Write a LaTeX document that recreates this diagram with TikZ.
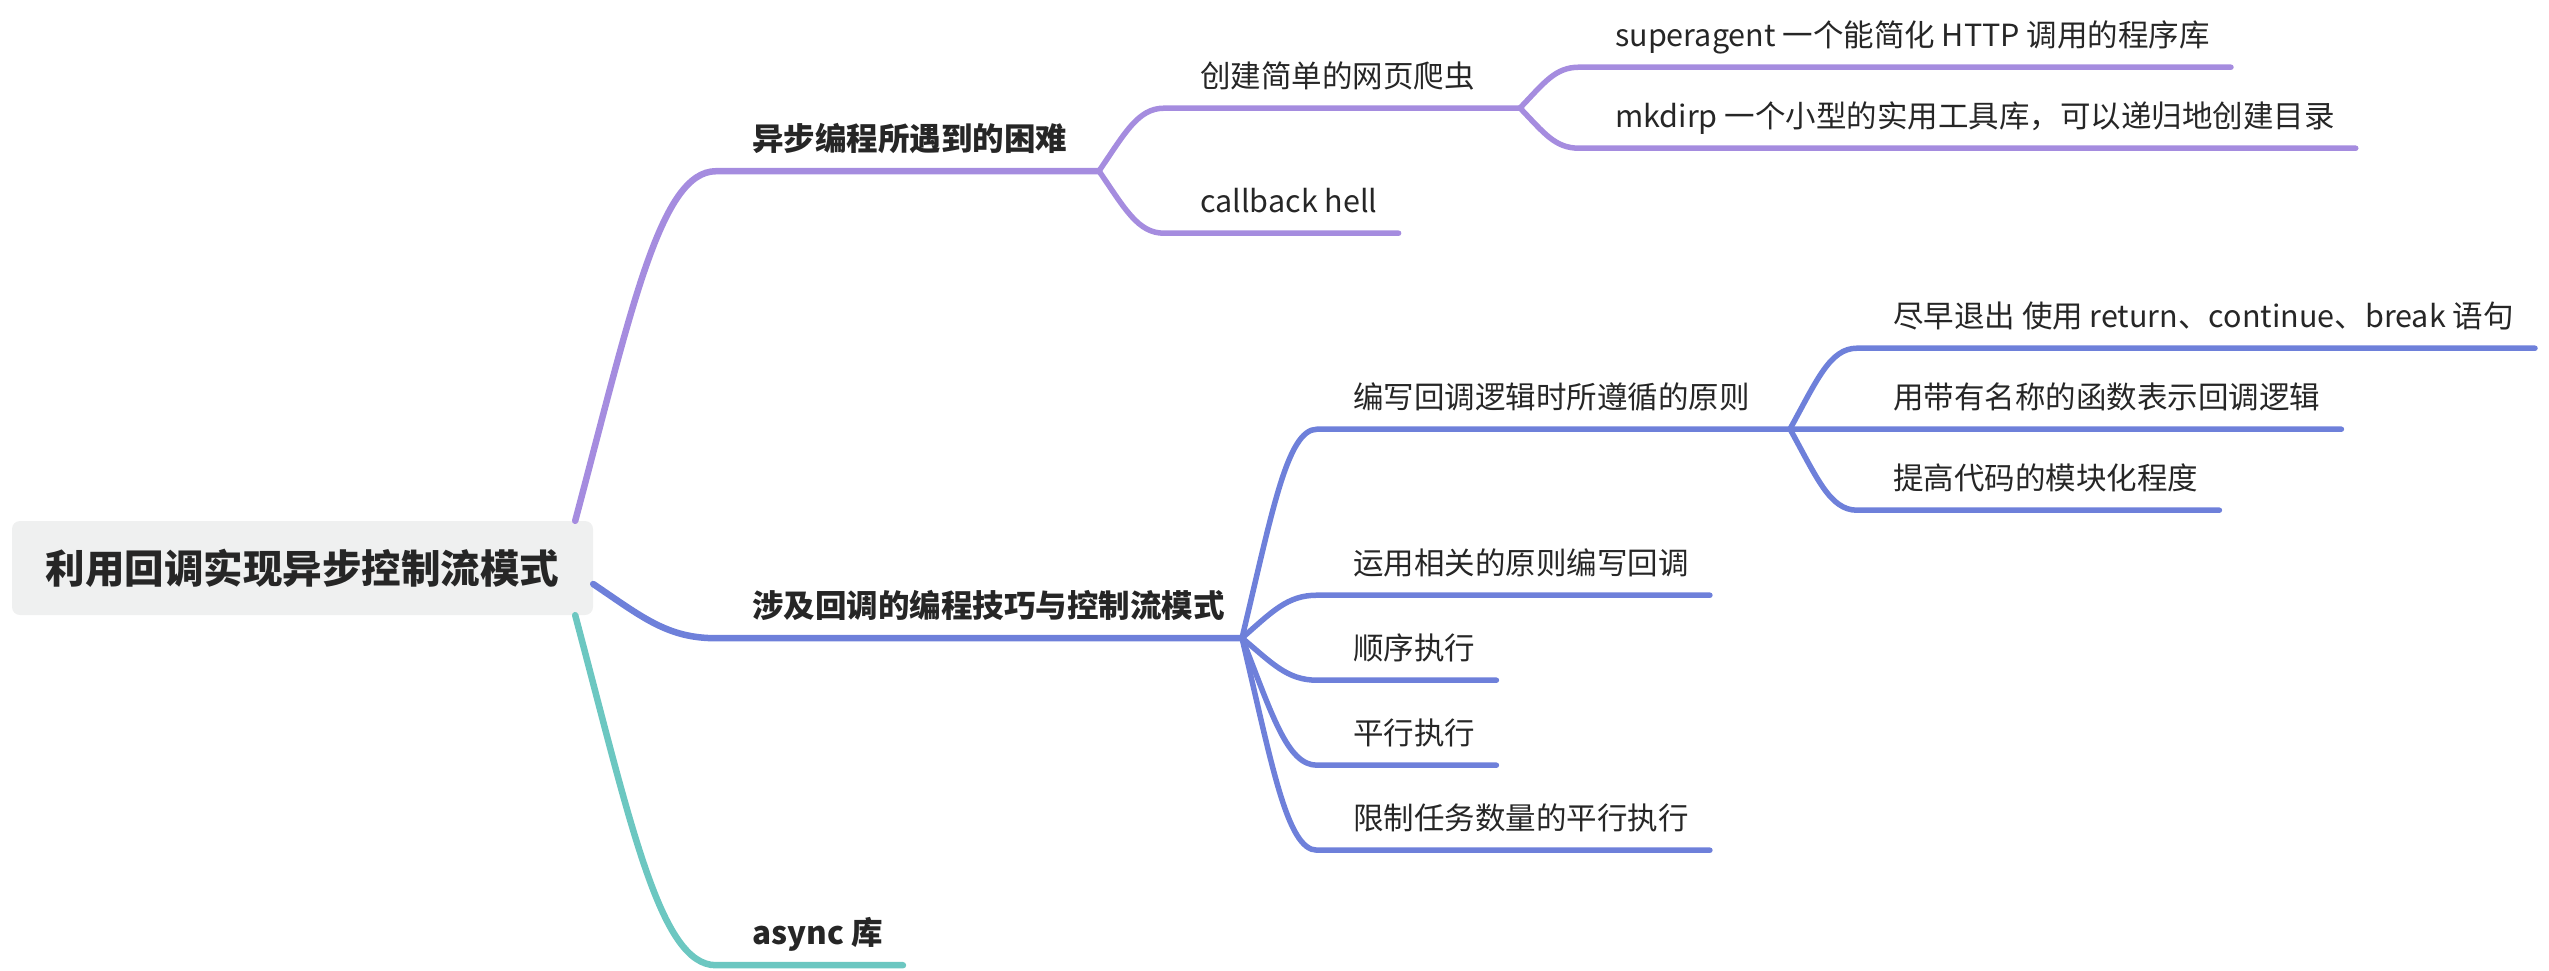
\documentclass[tikz,border=0pt]{standalone}
\usepackage{fontspec}
\setmainfont{Noto Sans CJK SC}
\usepackage{tikz}
\definecolor{viola}{HTML}{A58CDF}
\definecolor{blu}{HTML}{6E80DA}
\definecolor{turchese}{HTML}{6CC7C1}
\definecolor{grigio}{HTML}{EFF0F0}
\definecolor{inchiostro}{HTML}{262626}
\tikzset{
  radice/.style={rounded corners=8pt, fill=grigio, minimum width=581pt, minimum height=94pt,
    inner sep=0pt, text=inchiostro, font=\fontsize{39.5}{46}\selectfont\bfseries},
  primo/.style={anchor=base west, inner sep=0pt, text depth=21pt, text=inchiostro,
    font=\fontsize{31.5}{36}\selectfont\bfseries},
  ramo/.style={anchor=base west, inner sep=0pt, text depth=21pt, text=inchiostro,
    font=\fontsize{30.5}{36}\selectfont},
  grosso/.style={line width=6.5pt, line cap=round},
  fine/.style={line width=5.5pt, line cap=round}
}

\begin{document}
\begin{tikzpicture}[x=1pt,y=-1pt]
  \useasboundingbox (0,0) rectangle (2549,970);
  % Root topic
  \node[radice] (root) at (302.5,568) {利用回调实现异步控制流模式};
  % First level topics
  \node[primo] (diff) at (752,150) {异步编程所遇到的困难};
  \node[primo] (tech) at (752,617) {涉及回调的编程技巧与控制流模式};
  \node[primo] (async) at (752,944) {async 库};
  % Second level topics
  \node[ramo] (crawl) at (1200,87) {创建简单的网页爬虫};
  \node[ramo] (hell) at (1200,212) {callback hell};
  \node[ramo] (rules) at (1353,408) {编写回调逻辑时所遵循的原则};
  \node[ramo] (apply) at (1353,574) {运用相关的原则编写回调};
  \node[ramo] (seq) at (1353,659) {顺序执行};
  \node[ramo] (par) at (1353,744) {平行执行};
  \node[ramo] (limit) at (1353,829) {限制任务数量的平行执行};
  % Third level topics
  \node[ramo] (sa) at (1615,46) {superagent 一个能简化 HTTP 调用的程序库};
  \node[ramo] (mk) at (1615,127) {mkdirp 一个小型的实用工具库，可以递归地创建目录};
  \node[ramo] (early) at (1893,327) {尽早退出 使用 return、continue、break 语句};
  \node[ramo] (named) at (1893,408) {用带有名称的函数表示回调逻辑};
  \node[ramo] (mod) at (1893,489) {提高代码的模块化程度};
  % Forks
  \coordinate (fdiff) at (1099,171);
  \coordinate (ftech) at (1242,638);
  \coordinate (fcrawl) at (1520,108);
  \coordinate (frules) at (1790,429);
  % Branches from the root
  \draw[viola, grosso] ([xshift=-18pt]root.north east) .. controls +(56,-210) and +(-56,0) .. ([xshift=-36pt]diff.south west) -- (fdiff);
  \draw[blu, grosso] ([yshift=-16pt]root.east) .. controls +(49,33) and +(-49,0) .. ([xshift=-36pt]tech.south west) -- (ftech);
  \draw[turchese, grosso] ([xshift=-18pt]root.south east) .. controls +(56,210) and +(-56,0) .. ([xshift=-36pt]async.south west) -- ([xshift=20pt]async.south east);
  % Purple branch
  \draw[viola, fine] (fdiff) .. controls +(26,-38) and +(-26,0) .. ([xshift=-36pt]crawl.south west) -- (fcrawl);
  \draw[viola, fine] (fdiff) .. controls +(26,38) and +(-26,0) .. ([xshift=-36pt]hell.south west) -- ([xshift=21pt]hell.south east);
  \draw[viola, fine] (fcrawl) .. controls +(24,-25) and +(-24,0) .. ([xshift=-36pt]sa.south west) -- ([xshift=21pt]sa.south east);
  \draw[viola, fine] (fcrawl) .. controls +(24,25) and +(-24,0) .. ([xshift=-36pt]mk.south west) -- ([xshift=21pt]mk.south east);
  % Blue branch
  \draw[blu, fine] (ftech) .. controls +(30,-125) and +(-30,0) .. ([xshift=-36pt]rules.south west) -- (frules);
  \draw[blu, fine] (ftech) .. controls +(30,-26) and +(-30,0) .. ([xshift=-36pt]apply.south west) -- ([xshift=21pt]apply.south east);
  \draw[blu, fine] (ftech) .. controls +(30,25) and +(-30,0) .. ([xshift=-36pt]seq.south west) -- ([xshift=21pt]seq.south east);
  \draw[blu, fine] (ftech) .. controls +(30,76) and +(-30,0) .. ([xshift=-36pt]par.south west) -- ([xshift=21pt]par.south east);
  \draw[blu, fine] (ftech) .. controls +(30,127) and +(-30,0) .. ([xshift=-36pt]limit.south west) -- ([xshift=21pt]limit.south east);
  \draw[blu, fine] (frules) .. controls +(27,-49) and +(-27,0) .. ([xshift=-36pt]early.south west) -- ([xshift=21pt]early.south east);
  \draw[blu, fine] (frules) -- ([xshift=-36pt]named.south west) -- ([xshift=21pt]named.south east);
  \draw[blu, fine] (frules) .. controls +(27,49) and +(-27,0) .. ([xshift=-36pt]mod.south west) -- ([xshift=21pt]mod.south east);
\end{tikzpicture}
\end{document}
